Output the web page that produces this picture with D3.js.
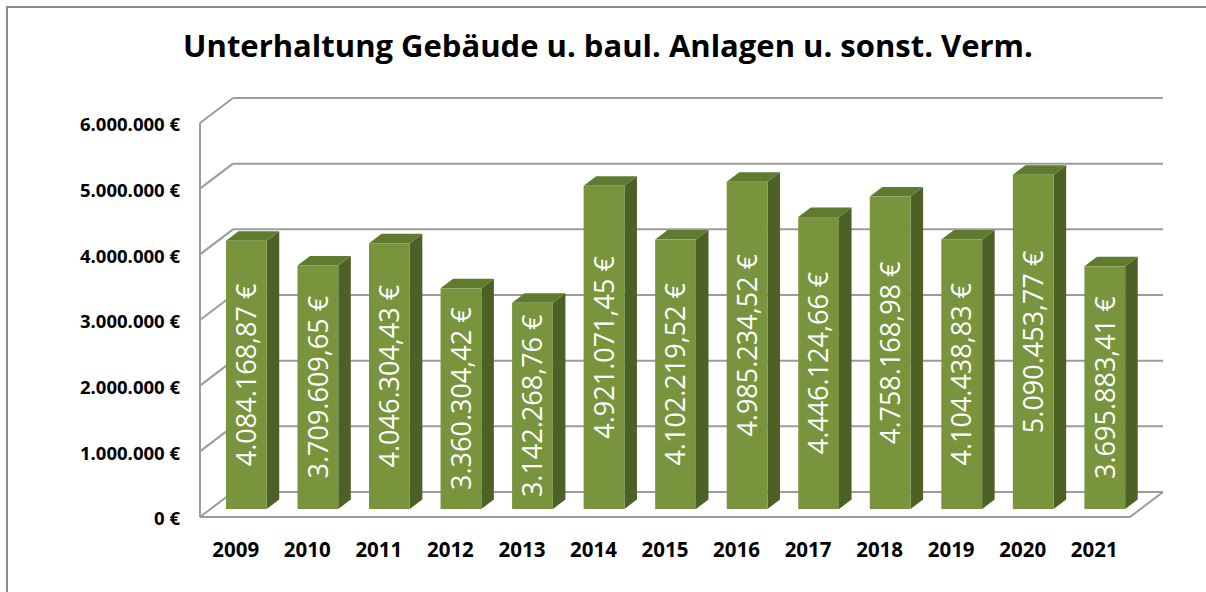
<!DOCTYPE html>
<html>
<head>
<meta charset="utf-8">
<style>
  body { margin: 0; background: #fff; }
  text { font-family: "Open Sans", "DejaVu Sans", sans-serif; }
</style>
</head>
<body>
<svg id="chart" width="1206" height="592"></svg>
<script src="https://cdn.jsdelivr.net/npm/d3@7"></script>
<script>

var title = "Unterhaltung Gebäude u. baul. Anlagen u. sonst. Verm.";
var years = ["2009", "2010", "2011", "2012", "2013", "2014", "2015", "2016", "2017", "2018", "2019", "2020", "2021"];
var values = [4084168.87, 3709609.65, 4046304.43, 3360304.42, 3142268.76, 4921071.45, 4102219.52,
              4985234.52, 4446124.66, 4758168.98, 4104438.83, 5090453.77, 3695883.41];
var yTicks = [0, 1000000, 2000000, 3000000, 4000000, 5000000, 6000000];

var svg = d3.select("#chart");

// chart frame
svg.append("rect")
    .attr("x", 7).attr("y", 7)
    .attr("width", 1250).attr("height", 650)
    .attr("fill", "#fff")
    .attr("stroke", "#8a8a8a")
    .attr("stroke-width", 2);

var de = d3.formatLocale({decimal: ",", thousands: ".", grouping: [3], currency: ["", " €"]});
var fmtTick = de.format(",.0f"),
    fmtVal = de.format(",.2f");

// front plane of the 3d box, plus depth offset
var left = 200, right = 1130,
    depthX = 33, depthY = -25;

var x = d3.scaleBand()
    .domain(years)
    .range([left, right])
    .paddingInner(0.43)
    .paddingOuter(0.215);

var y = d3.scaleLinear()
    .domain([0, 6000000])
    .range([517, 123]);

// bars sit between these depth fractions
var f1 = 0.32, f2 = 0.70;

var grid = svg.append("g")
    .attr("stroke", "#9c9c9c")
    .attr("stroke-width", 2)
    .attr("fill", "none");

// back wall gridlines and left diagonals
yTicks.forEach(function(t) {
  grid.append("line")
      .attr("x1", left + depthX).attr("x2", right + depthX)
      .attr("y1", y(t) + depthY).attr("y2", y(t) + depthY);
  grid.append("line")
      .attr("x1", left).attr("x2", left + depthX)
      .attr("y1", y(t)).attr("y2", y(t) + depthY);
});

// front vertical axis
grid.append("line")
    .attr("x1", left).attr("x2", left)
    .attr("y1", y(6000000)).attr("y2", y(0));

// floor front and right edge
grid.append("path")
    .attr("d", "M" + left + "," + y(0) + "H" + right + "l" + depthX + "," + depthY);

// y tick labels
svg.append("g")
  .selectAll("text")
  .data(yTicks)
  .join("text")
    .attr("x", 180)
    .attr("y", function(d) { return y(d) + 2; })
    .attr("dy", "0.35em")
    .attr("text-anchor", "end")
    .attr("font-size", 18.5)
    .attr("font-weight", "bold")
    .attr("fill", "#000")
    .text(function(d) { return fmtTick(d) + " €"; });

// x labels
svg.append("g")
  .selectAll("text")
  .data(years)
  .join("text")
    .attr("x", function(d) { return x(d) + x.bandwidth() / 2; })
    .attr("y", 550)
    .attr("dy", "0.35em")
    .attr("text-anchor", "middle")
    .attr("font-size", 20.5)
    .attr("font-weight", "bold")
    .attr("fill", "#000")
    .text(function(d) { return d; });

var data = years.map(function(yr, i) { return {year: yr, value: values[i]}; });

var ox = f1 * depthX, oy = f1 * depthY,
    bx = (f2 - f1) * depthX, by = (f2 - f1) * depthY,
    w = x.bandwidth();

var bars = svg.append("g")
  .selectAll("g")
  .data(data)
  .join("g");

// side face
bars.append("path")
    .attr("fill", "#4d6127")
    .attr("d", function(d) {
      var x1 = x(d.year) + ox + w, y0 = y(0) + oy, yt = y(d.value) + oy;
      return "M" + x1 + "," + y0 + "V" + yt + "l" + bx + "," + by + "V" + (y0 + by) + "Z";
    });

// top face
bars.append("path")
    .attr("fill", "#5f7b2f")
    .attr("d", function(d) {
      var x0 = x(d.year) + ox, yt = y(d.value) + oy;
      return "M" + x0 + "," + yt + "h" + w + "l" + bx + "," + by + "h" + (-w) + "Z";
    });

// front face
bars.append("rect")
    .attr("fill", "#78943c")
    .attr("x", function(d) { return x(d.year) + ox; })
    .attr("y", function(d) { return y(d.value) + oy; })
    .attr("width", w)
    .attr("height", function(d) { return y(0) - y(d.value); });

// value labels inside bars
bars.append("text")
    .attr("transform", function(d) {
      var cx = x(d.year) + ox + w / 2,
          cy = (y(d.value) + y(0)) / 2 + oy;
      return "translate(" + cx + "," + cy + ") rotate(-90)";
    })
    .attr("dy", "0.36em")
    .attr("text-anchor", "middle")
    .attr("font-size", 27)
    .attr("fill", "#fff")
    .text(function(d) { return fmtVal(d.value) + " €"; });

// title
svg.append("text")
    .attr("x", 608)
    .attr("y", 57)
    .attr("text-anchor", "middle")
    .attr("font-size", 31)
    .attr("font-weight", "bold")
    .attr("fill", "#000")
    .text(title);

</script>
</body>
</html>
